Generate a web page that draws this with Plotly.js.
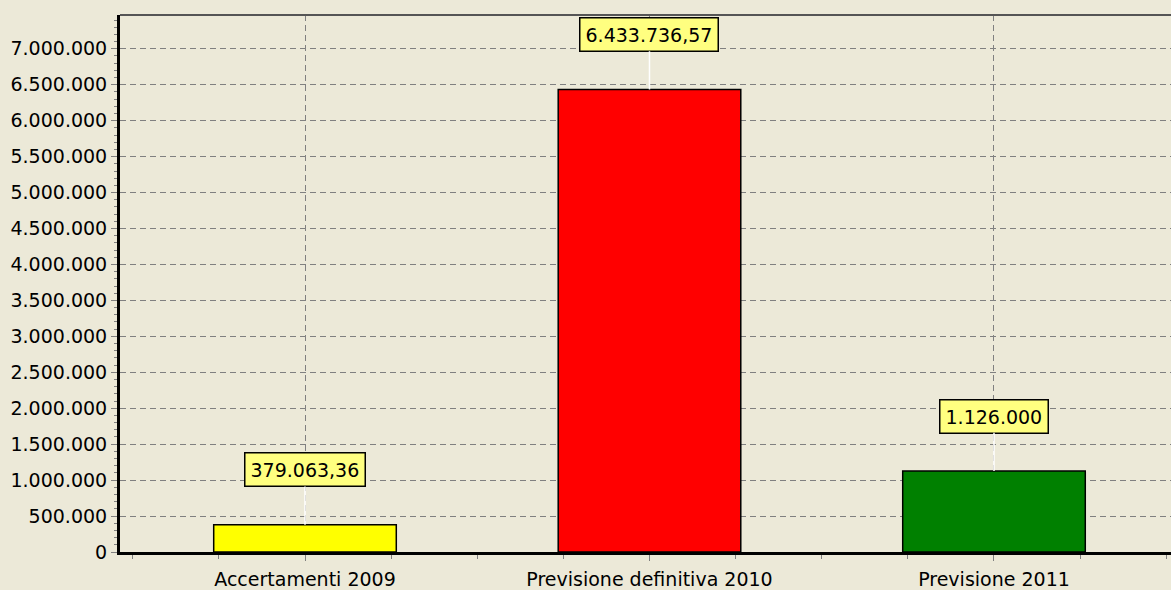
<!DOCTYPE html>
<html>
<head>
<meta charset="utf-8">
<script src="https://cdn.plot.ly/plotly-3.0.1.min.js"></script>
<style>
html,body{margin:0;padding:0;overflow:hidden;background:#ece9d8;}
#chart{width:1200px;height:590px;}
</style>
</head>
<body>
<div id="chart"></div>
<script>
const categories = ["Accertamenti 2009", "Previsione definitiva 2010", "Previsione 2011"];
const values = [379063.36, 6433736.57, 1126000];
const barColors = ["#ffff00", "#ff0000", "#008000"];

function fmtIt(v) {
  const isInt = Math.abs(v - Math.round(v)) < 1e-9;
  const fixed = isInt ? Math.round(v).toString() : v.toFixed(2);
  let [ip, dp] = fixed.split(".");
  ip = ip.replace(/\B(?=(\d{3})+(?!\d))/g, ".");
  return dp ? ip + "," + dp : ip;
}

const xs = categories.map((c, i) => i);
const FONT = "DejaVu Sans, Verdana, sans-serif";

const trace = {
  type: "bar",
  x: xs,
  y: values,
  width: 0.53,
  marker: {color: barColors, line: {color: "#000000", width: 1.5}},
  hoverinfo: "skip"
};

const annotations = values.map((v, i) => ({
  x: xs[i], y: v, xref: "x", yref: "y",
  text: fmtIt(v),
  showarrow: true, arrowhead: 0, arrowcolor: "#ffffff", arrowwidth: 1.5,
  ax: 0, ay: -55, standoff: 0,
  bgcolor: "#ffff80", bordercolor: "#000000", borderwidth: 1.5, borderpad: 5,
  font: {family: FONT, size: 19, color: "#000000"}
}));

const layout = {
  width: 1200, height: 590,
  margin: {l: 120, r: 0, t: 15, b: 38},
  paper_bgcolor: "#ece9d8",
  plot_bgcolor: "#ece9d8",
  separators: ",.",
  showlegend: false,
  font: {family: FONT, size: 19, color: "#000000"},
  xaxis: {
    range: [-0.537, 2.598],
    tickvals: xs, ticktext: categories,
    showgrid: true, gridcolor: "#808080", griddash: "6px,4px", gridwidth: 1,
    ticks: "outside", ticklen: 6, tickcolor: "#808080",
    ticklabelstandoff: 2,
    minor: {dtick: 0.25, tick0: 0, ticks: "outside", ticklen: 4, tickcolor: "#808080", showgrid: false},
    showline: true, linecolor: "#000000", linewidth: 3,
    zeroline: false, fixedrange: true,
    tickfont: {family: FONT, size: 19, color: "#000000"}
  },
  yaxis: {
    range: [0, 7470000],
    dtick: 500000, tick0: 0, tickformat: ",d",
    showgrid: true, gridcolor: "#808080", griddash: "6px,4px", gridwidth: 1,
    ticks: "outside", ticklen: 6, tickcolor: "#808080",
    minor: {dtick: 100000, ticks: "outside", ticklen: 3, tickcolor: "#808080", showgrid: false},
    showline: true, linecolor: "#000000", linewidth: 3,
    zeroline: false, fixedrange: true,
    tickfont: {family: FONT, size: 19, color: "#000000"}
  },
  shapes: [{
    type: "line", xref: "paper", yref: "paper", x0: 0, x1: 1, y0: 1, y1: 1,
    line: {color: "#555555", width: 2}
  }],
  annotations: annotations
};

Plotly.newPlot("chart", [trace], layout, {displayModeBar: false, staticPlot: true});
</script>
</body>
</html>
